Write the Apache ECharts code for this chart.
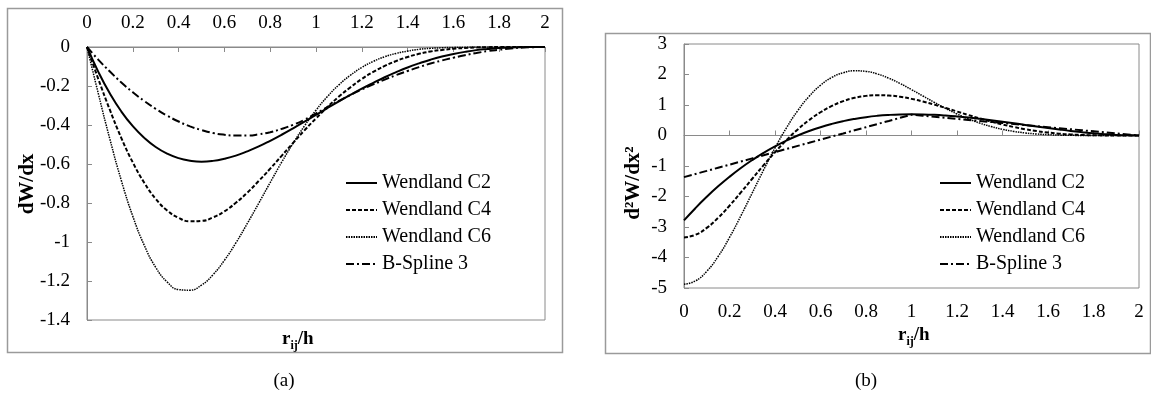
<!DOCTYPE html>
<html>
<head>
<meta charset="utf-8">
<script src="https://cdn.jsdelivr.net/npm/echarts@6/dist/echarts.min.js"></script>
<style>
html,body{margin:0;padding:0;background:#fff;}
#c{width:1151px;height:407px;}
</style>
</head>
<body>
<div id="c"></div>
<script>
// r_ij/h sample positions (step 0.05)
const rValues = [0,0.05,0.1,0.15,0.2,0.25,0.3,0.35,0.4,0.45,0.5,0.55,0.6,0.65,0.7,0.75,0.8,0.85,0.9,0.95,
  1.0,1.05,1.1,1.15,1.2,1.25,1.3,1.35,1.4,1.45,1.5,1.55,1.6,1.65,1.7,1.75,1.8,1.85,1.9,1.95,2.0];
const seriesNames = ['Wendland C2','Wendland C4','Wendland C6','B-Spline 3'];
// (a) first derivative dW/dx
const c2D1 = [0,-0.129,-0.239,-0.331,-0.406,-0.466,-0.513,-0.547,-0.570,-0.583,
  -0.588,-0.584,-0.573,-0.557,-0.535,-0.510,-0.481,-0.450,-0.417,-0.383,
  -0.348,-0.313,-0.279,-0.246,-0.214,-0.184,-0.155,-0.129,-0.105,-0.084,
  -0.065,-0.049,-0.036,-0.025,-0.016,-0.010,-0.005,-0.002,-0.001,0,0];
const c4D1 = [0,-0.166,-0.323,-0.467,-0.592,-0.696,-0.779,-0.838,-0.876,-0.894,
  -0.892,-0.874,-0.843,-0.799,-0.747,-0.687,-0.624,-0.558,-0.492,-0.427,
  -0.366,-0.308,-0.254,-0.207,-0.164,-0.128,-0.097,-0.072,-0.051,-0.035,
  -0.023,-0.015,-0.009,-0.005,-0.002,-0.001,0,0,0,0,0];
const c6D1 = [0,-0.242,-0.473,-0.685,-0.868,-1.017,-1.130,-1.205,-1.244,-1.247,
  -1.221,-1.168,-1.094,-1.005,-0.905,-0.801,-0.695,-0.591,-0.494,-0.404,
  -0.324,-0.254,-0.194,-0.145,-0.105,-0.074,-0.050,-0.033,-0.021,-0.012,
  -0.007,-0.004,-0.002,-0.001,0,0,0,0,0,0,0];
const bsD1 = [0,-0.066,-0.126,-0.182,-0.232,-0.277,-0.317,-0.352,-0.382,-0.407,
  -0.426,-0.441,-0.450,-0.454,-0.454,-0.448,-0.437,-0.420,-0.399,-0.373,
  -0.341,-0.308,-0.276,-0.246,-0.218,-0.192,-0.167,-0.144,-0.123,-0.103,
  -0.085,-0.069,-0.055,-0.042,-0.031,-0.021,-0.014,-0.008,-0.003,-0.001,0];
// (b) second derivative d2W/dx2
const c2D2 = [-2.785,-2.383,-2.011,-1.668,-1.354,-1.066,-0.805,-0.569,-0.357,-0.167,
  0,0.146,0.273,0.381,0.471,0.544,0.602,0.645,0.674,0.691,
  0.696,0.691,0.677,0.654,0.624,0.588,0.546,0.500,0.451,0.400,
  0.348,0.296,0.245,0.196,0.150,0.109,0.072,0.042,0.019,0.005,0];
const c4D2 = [-3.342,-3.256,-3.029,-2.699,-2.302,-1.867,-1.418,-0.973,-0.548,-0.154,
  0.198,0.505,0.762,0.969,1.126,1.235,1.299,1.323,1.311,1.269,
  1.201,1.114,1.012,0.902,0.787,0.672,0.561,0.457,0.361,0.277,
  0.205,0.145,0.097,0.061,0.035,0.018,0.008,0.003,0.001,0,0];
const c6D2 = [-4.877,-4.768,-4.454,-3.966,-3.343,-2.633,-1.881,-1.127,-0.409,0.245,
  0.814,1.283,1.647,1.904,2.059,2.121,2.102,2.017,1.879,1.704,
  1.505,1.296,1.088,0.889,0.706,0.545,0.407,0.293,0.203,0.134,
  0.084,0.049,0.027,0.013,0.006,0.002,0.001,0,0,0,0];
const bsD2 = [-1.364,-1.262,-1.160,-1.057,-0.955,-0.853,-0.750,-0.648,-0.546,-0.443,
  -0.341,-0.239,-0.136,-0.034,0.068,0.171,0.273,0.375,0.477,0.580,
  0.682,0.648,0.614,0.580,0.546,0.512,0.477,0.443,0.409,0.375,
  0.341,0.307,0.273,0.239,0.205,0.171,0.136,0.102,0.068,0.034,0];

const FONT = '"Liberation Serif","Times New Roman",serif';
const AX = '#8a8a8a';
const lineStyles = [
  {color:'#000', width:2, type:'solid'},
  {color:'#000', width:2, type:[4,2]},
  {color:'#000', width:1.5, type:[1.5,1]},
  {color:'#000', width:2, type:[8,3,2,3]}
];
function pairs(vals){ return rValues.map((x,i)=>[x, vals[i]]); }
function mk(name, idx, vals, xi, yi, smooth){
  return {name:name, type:'line', xAxisIndex:xi, yAxisIndex:yi, data:pairs(vals),
    symbol:'none', smooth:smooth, lineStyle:lineStyles[idx], itemStyle:{color:'#000'}, silent:true, animation:false};
}
const labelStyle = {color:'#000', fontFamily:FONT, fontSize:19};
const legendCommon = {orient:'vertical', top:173, itemWidth:31, itemHeight:14, itemGap:7, padding:0,
  data:seriesNames, selectedMode:false,
  itemStyle:{color:'rgba(0,0,0,0)', borderColor:'rgba(0,0,0,0)', borderWidth:0},
  textStyle:{color:'#000', fontFamily:FONT, fontSize:20, lineHeight:20}};

const chart = echarts.init(document.getElementById('c'), null, {renderer:'canvas'});
chart.setOption({
  backgroundColor:'#fff',
  animation:false,
  grid:[
    {left:87, top:47, width:458, height:273, show:true, borderColor:AX, borderWidth:1, containLabel:false},
    {left:684, top:44, width:455, height:244, show:true, borderColor:AX, borderWidth:1, containLabel:false}
  ],
  xAxis:[
    {gridIndex:0, type:'value', position:'top', min:0, max:2, interval:0.2,
      axisLine:{show:true, lineStyle:{color:AX}}, axisTick:{show:true, inside:true, length:5, lineStyle:{color:AX}},
      axisLabel:Object.assign({margin:14}, labelStyle), splitLine:{show:false}},
    {gridIndex:1, type:'value', position:'bottom', min:0, max:2, interval:0.2,
      axisLine:{show:false, onZero:false}, axisTick:{show:false},
      axisLabel:Object.assign({margin:15}, labelStyle), splitLine:{show:false}},
    {gridIndex:1, type:'value', position:'bottom', min:0, max:2, interval:0.2,
      axisLine:{show:true, onZero:true, lineStyle:{color:AX}}, axisTick:{show:true, inside:true, length:5, lineStyle:{color:AX}},
      axisLabel:{show:false}, splitLine:{show:false}}
  ],
  yAxis:[
    {gridIndex:0, type:'value', min:-1.4, max:0, interval:0.2,
      axisLine:{show:true, lineStyle:{color:AX}}, axisTick:{show:true, inside:true, length:5, lineStyle:{color:AX}},
      axisLabel:Object.assign({margin:17}, labelStyle), splitLine:{show:false}},
    {gridIndex:1, type:'value', min:-5, max:3, interval:1,
      axisLine:{show:true, lineStyle:{color:AX}}, axisTick:{show:true, inside:true, length:5, lineStyle:{color:AX}},
      axisLabel:Object.assign({margin:17}, labelStyle), splitLine:{show:false}}
  ],
  legend:[
    Object.assign({left:345}, legendCommon),
    Object.assign({left:939}, legendCommon)
  ],
  series:[
    mk(seriesNames[0],0,c2D1,0,0,true),
    mk(seriesNames[1],1,c4D1,0,0,true),
    mk(seriesNames[2],2,c6D1,0,0,true),
    mk(seriesNames[3],3,bsD1,0,0,true),
    mk(seriesNames[0],0,c2D2,1,1,true),
    mk(seriesNames[1],1,c4D2,1,1,true),
    mk(seriesNames[2],2,c6D2,1,1,true),
    mk(seriesNames[3],3,bsD2,1,1,false)
  ],
  graphic:[
    {type:'rect', shape:{x:7.5, y:8.5, width:555, height:344}, style:{fill:'none', stroke:'#9a9a9a', lineWidth:1.5}, silent:true},
    {type:'rect', shape:{x:605.5, y:33.5, width:545, height:320}, style:{fill:'none', stroke:'#9a9a9a', lineWidth:1.5}, silent:true},
    {type:'text', x:28, y:184, rotation:Math.PI/2, style:{text:'dW/dx', font:'bold 21px '+FONT, fill:'#000', textAlign:'center', textVerticalAlign:'middle'}, silent:true},
    {type:'text', x:634, y:183, rotation:Math.PI/2, style:{text:'d\u00b2W/dx\u00b2', font:'bold 21px '+FONT, fill:'#000', textAlign:'center', textVerticalAlign:'middle'}, silent:true},
    {type:'text', x:282, y:330, style:{text:'{b|r}{s|ij}{b|/h}', rich:{b:{font:'bold 19px '+FONT, fill:'#000', verticalAlign:'top'}, s:{font:'bold 12px '+FONT, fill:'#000', padding:[10,0,0,0], verticalAlign:'top'}}, fill:'#000'}, silent:true},
    {type:'text', x:898, y:326, style:{text:'{b|r}{s|ij}{b|/h}', rich:{b:{font:'bold 19px '+FONT, fill:'#000', verticalAlign:'top'}, s:{font:'bold 12px '+FONT, fill:'#000', padding:[10,0,0,0], verticalAlign:'top'}}, fill:'#000'}, silent:true},
    {type:'text', x:284, y:381, style:{text:'(a)', font:'19px '+FONT, fill:'#000', textAlign:'center', textVerticalAlign:'middle'}, silent:true},
    {type:'text', x:866, y:381, style:{text:'(b)', font:'19px '+FONT, fill:'#000', textAlign:'center', textVerticalAlign:'middle'}, silent:true}
  ]
});
</script>
</body>
</html>
